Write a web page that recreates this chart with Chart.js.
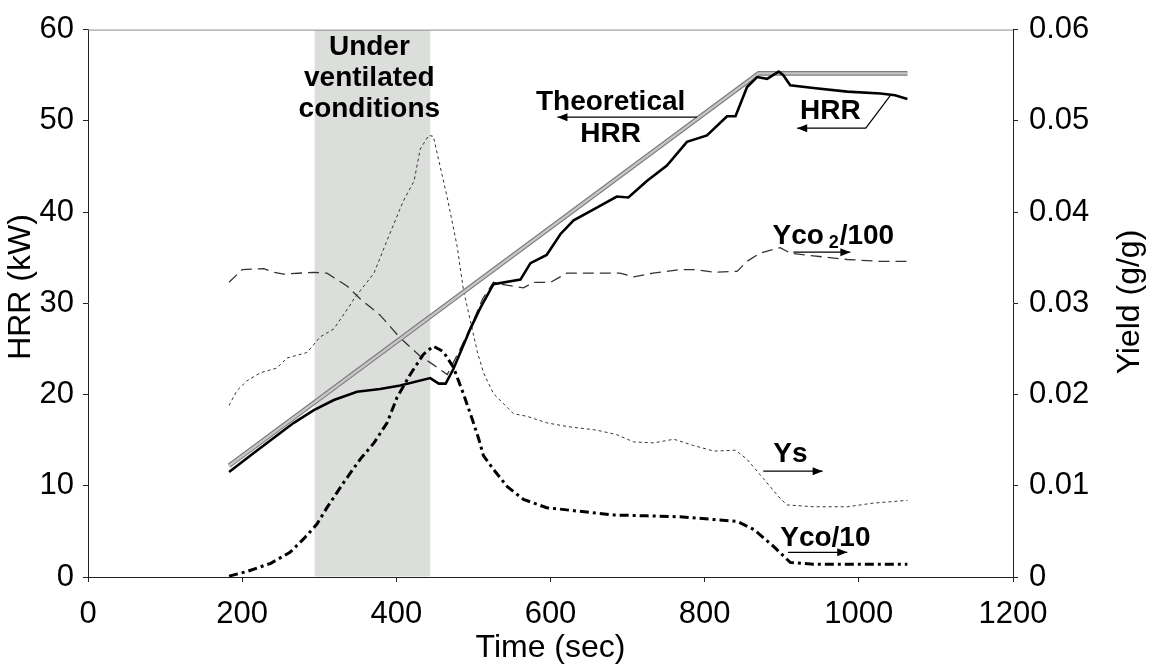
<!DOCTYPE html>
<html>
<head>
<meta charset="utf-8">
<script src="https://cdn.jsdelivr.net/npm/chart.js@4.4.0/dist/chart.umd.min.js"></script>
<style>
  html, body { margin: 0; padding: 0; background: #fff; }
</style>
</head>
<body>
<canvas id="chart" width="1154" height="667"></canvas>
<script>
// --- data ---
const xTicks = [0, 200, 400, 600, 800, 1000, 1200];

const theoTime = [183, 870, 1063];
const theoKW = [12.2, 55.2, 55.2];

const hrrTime = [183, 215, 267, 293, 319, 349, 379, 405, 444, 455,
                 464, 474, 496, 509, 526, 561, 574, 595, 613, 630,
                 656, 686, 701, 725, 751, 777, 803, 829, 840, 855,
                 868, 881, 896, 902, 911, 941, 985, 1028, 1047, 1063];
const hrrKW = [11.5, 13.6, 16.9, 18.3, 19.4, 20.3, 20.6, 21.0, 21.8, 21.2,
               21.2, 22.8, 27.2, 29.5, 32.1, 32.6, 34.4, 35.3, 37.6, 39.1,
               40.3, 41.7, 41.6, 43.4, 45.1, 47.7, 48.4, 50.5, 50.5, 53.7,
               54.8, 54.6, 55.4, 55.0, 53.9, 53.6, 53.2, 53.0, 52.8, 52.4];

const co2Time = [183, 200, 228, 241, 254, 293, 310, 323, 336, 353,
                 379, 405, 431, 444, 466, 480, 497, 512, 526, 535,
                 565, 578, 600, 621, 652, 690, 708, 733, 768, 786,
                 812, 842, 855, 872, 898, 911, 941, 985, 1027, 1063];
const co2Yield = [0.0323, 0.0337, 0.0338, 0.0334, 0.0332, 0.0334, 0.0333, 0.0326, 0.0319, 0.0305,
                  0.0287, 0.0262, 0.0242, 0.0235, 0.0222, 0.0245, 0.0275, 0.0305, 0.0323, 0.0321,
                  0.0317, 0.0323, 0.0323, 0.0333, 0.0333, 0.0333, 0.0329, 0.0333, 0.0337, 0.0337,
                  0.0334, 0.0335, 0.0346, 0.0355, 0.0361, 0.0355, 0.0352, 0.0348, 0.0346, 0.0346];

const ysTime = [183, 193, 206, 224, 245, 258, 284, 301, 319, 340,
                345, 371, 388, 409, 423, 431, 442, 448, 466, 479,
                487, 505, 513, 526, 552, 570, 595, 621, 660, 686,
                708, 734, 760, 786, 812, 840, 855, 876, 898, 907,
                941, 985, 1019, 1063];
const ysYield = [0.0188, 0.0204, 0.0215, 0.0224, 0.0229, 0.0240, 0.0246, 0.0263, 0.0272, 0.0298,
                 0.0305, 0.0333, 0.0369, 0.0412, 0.0434, 0.0469, 0.0484, 0.0483, 0.0416, 0.0362,
                 0.0315, 0.0247, 0.0224, 0.0201, 0.0179, 0.0176, 0.0169, 0.0165, 0.0161, 0.0156,
                 0.0148, 0.0147, 0.0151, 0.0144, 0.0138, 0.0139, 0.0129, 0.0108, 0.0086, 0.0079,
                 0.0077, 0.0077, 0.0081, 0.0084];

const coTime = [183, 206, 237, 262, 280, 297, 310, 332, 353, 371,
                388, 401, 418, 435, 448, 461, 474, 487, 500, 507,
                513, 526, 544, 565, 595, 638, 682, 725, 768, 812,
                842, 864, 890, 911, 941, 1063];
const coYield = [0.0001, 0.0006, 0.0015, 0.0027, 0.0042, 0.0058, 0.0076, 0.0104, 0.0129, 0.0147,
                 0.0169, 0.0197, 0.0222, 0.0244, 0.0253, 0.0247, 0.0230, 0.0201, 0.0169, 0.0151,
                 0.0133, 0.0118, 0.0099, 0.0085, 0.0076, 0.0072, 0.0068, 0.0067, 0.0066, 0.0063,
                 0.0061, 0.0052, 0.0033, 0.0016, 0.0014, 0.0014];

// under-ventilated period (sec)
const shadeStart = 294;
const shadeEnd = 444;

// text notes, placed in data units (time, kW)
const notes = [
    { text: 'Under', t: 365, kW: 57.2, align: 'center' },
    { text: 'ventilated', t: 365, kW: 53.8, align: 'center' },
    { text: 'conditions', t: 365, kW: 50.4, align: 'center' },
    { text: 'Theoretical', t: 678, kW: 51.2, align: 'center' },
    { text: 'HRR', t: 678, kW: 47.7, align: 'center' },
    { text: 'HRR', t: 963, kW: 50.2, align: 'center' },
    { text: 'Ys', t: 889, kW: 12.6, align: 'left' },
    { text: 'Yco/10', t: 898, kW: 3.4, align: 'left' }
];
const co2Note = { t: 888, kW: 36.5 };

// arrows: polyline in (time, kW), head at the last point
const arrows = [
    [[790, 50.4], [609, 50.4]],
    [[1041, 52.8], [1009, 49.2], [920, 49.2]],
    [[915, 35.6], [989, 35.6]],
    [[876, 11.6], [953, 11.6]],
    [[908, 2.7], [985, 2.7]]
];

const FONT = "'Liberation Sans', Arial, sans-serif";

function series(ts, vs) {
    return ts.map((t, i) => ({ x: t, y: vs[i] }));
}

const decor = {
    id: 'decor',
    beforeDatasetsDraw(chart) {
        const { ctx, chartArea: a, scales: { x } } = chart;
        const x0 = x.getPixelForValue(shadeStart);
        const x1 = x.getPixelForValue(shadeEnd);
        ctx.save();
        ctx.fillStyle = '#dcdedc';
        ctx.fillRect(x0, a.top + 0.5, x1 - x0, a.bottom - a.top - 1);
        ctx.restore();
    },
    afterDraw(chart) {
        const { ctx, chartArea: a, scales: { x, y } } = chart;
        ctx.save();

        // top frame line
        ctx.strokeStyle = '#8c8c8c';
        ctx.lineWidth = 1;
        ctx.beginPath();
        ctx.moveTo(a.left, a.top + 0.5);
        ctx.lineTo(a.right, a.top + 0.5);
        ctx.stroke();

        // axis titles for the two y axes (both read bottom to top)
        ctx.fillStyle = '#000';
        ctx.font = '32px ' + FONT;
        ctx.textAlign = 'center';
        ctx.textBaseline = 'middle';
        ctx.save();
        ctx.translate(21, 287);
        ctx.rotate(-Math.PI / 2);
        ctx.fillText('HRR (kW)', 0, 0);
        ctx.restore();
        ctx.save();
        ctx.translate(1130, 302);
        ctx.rotate(-Math.PI / 2);
        ctx.fillText('Yield (g/g)', 0, 0);
        ctx.restore();

        // notes
        ctx.font = 'bold 28px ' + FONT;
        ctx.textBaseline = 'alphabetic';
        notes.forEach(n => {
            ctx.textAlign = n.align;
            ctx.fillText(n.text, x.getPixelForValue(n.t), y.getPixelForValue(n.kW));
        });

        // Yco2/100 with subscript
        let px = x.getPixelForValue(co2Note.t);
        const py = y.getPixelForValue(co2Note.kW);
        ctx.textAlign = 'left';
        ctx.fillText('Yco', px, py);
        px += ctx.measureText('Yco ').width - 3;
        ctx.font = 'bold 18px ' + FONT;
        ctx.fillText('2', px, py + 4);
        px += ctx.measureText('2').width + 1;
        ctx.font = 'bold 28px ' + FONT;
        ctx.fillText('/100', px, py);

        // arrows
        ctx.strokeStyle = '#000';
        ctx.fillStyle = '#000';
        ctx.lineWidth = 1.2;
        arrows.forEach(pts => {
            const p = pts.map(q => [x.getPixelForValue(q[0]), y.getPixelForValue(q[1])]);
            ctx.beginPath();
            ctx.moveTo(p[0][0], p[0][1]);
            for (let i = 1; i < p.length; i++) ctx.lineTo(p[i][0], p[i][1]);
            ctx.stroke();
            const [ex, ey] = p[p.length - 1];
            const [sx, sy] = p[p.length - 2];
            const ang = Math.atan2(ey - sy, ex - sx);
            ctx.beginPath();
            ctx.moveTo(ex, ey);
            ctx.lineTo(ex - 10 * Math.cos(ang) + 4 * Math.sin(ang), ey - 10 * Math.sin(ang) - 4 * Math.cos(ang));
            ctx.lineTo(ex - 10 * Math.cos(ang) - 4 * Math.sin(ang), ey - 10 * Math.sin(ang) + 4 * Math.cos(ang));
            ctx.closePath();
            ctx.fill();
        });

        ctx.restore();
    }
};

const axisGrid = { drawOnChartArea: false, tickLength: 5, tickColor: '#222', color: '#222' };
const axisBorder = { color: '#222', width: 1 };
const tickFont = { family: FONT, size: 31 };

new Chart(document.getElementById('chart'), {
    type: 'line',
    data: {
        datasets: [
            {
                label: 'HRR',
                data: series(hrrTime, hrrKW),
                yAxisID: 'y',
                borderColor: '#000',
                borderWidth: 2.6,
                order: 0
            },
            {
                label: 'Theoretical HRR',
                data: series(theoTime, theoKW),
                yAxisID: 'y',
                borderColor: '#c6c6c6',
                borderWidth: 2.4,
                order: 1
            },
            {
                label: 'Theoretical HRR (edge)',
                data: series(theoTime, theoKW),
                yAxisID: 'y',
                borderColor: '#7c7c7c',
                borderWidth: 4.6,
                order: 2
            },
            {
                label: 'Yco/10',
                data: series(coTime, coYield),
                yAxisID: 'y2',
                borderColor: '#000',
                borderWidth: 3,
                borderDash: [9, 4, 3, 4],
                order: 3
            },
            {
                label: 'Yco2/100',
                data: series(co2Time, co2Yield),
                yAxisID: 'y2',
                borderColor: '#333',
                borderWidth: 1.3,
                borderDash: [11, 6],
                order: 4
            },
            {
                label: 'Ys',
                data: series(ysTime, ysYield),
                yAxisID: 'y2',
                borderColor: '#333',
                borderWidth: 1,
                borderDash: [3, 3],
                order: 5
            }
        ]
    },
    options: {
        responsive: false,
        animation: false,
        layout: { padding: { top: 18, left: 0, right: 0, bottom: 0 } },
        elements: {
            point: { radius: 0 },
            line: { tension: 0, fill: false }
        },
        plugins: {
            legend: { display: false },
            tooltip: { enabled: false }
        },
        scales: {
            x: {
                type: 'linear',
                min: xTicks[0],
                max: xTicks[xTicks.length - 1],
                afterBuildTicks: s => { s.ticks = xTicks.map(v => ({ value: v })); },
                ticks: { font: tickFont, color: '#000', padding: 14, maxRotation: 0, callback: v => String(v) },
                grid: axisGrid,
                border: axisBorder,
                title: {
                    display: true,
                    text: 'Time (sec)',
                    color: '#000',
                    font: { family: FONT, size: 32 },
                    padding: { top: 0, bottom: 0 }
                },
                afterFit: s => { s.height = 90; }
            },
            y: {
                position: 'left',
                min: 0,
                max: 60,
                ticks: { stepSize: 10, font: tickFont, color: '#000', padding: 9 },
                grid: axisGrid,
                border: axisBorder,
                afterFit: s => { s.width = 88; }
            },
            y2: {
                position: 'right',
                min: 0,
                max: 0.06,
                ticks: {
                    stepSize: 0.01,
                    font: tickFont,
                    color: '#000',
                    padding: 11,
                    callback: v => (v === 0 ? '0' : v.toFixed(2))
                },
                grid: axisGrid,
                border: axisBorder,
                afterFit: s => { s.width = 141; }
            }
        }
    },
    plugins: [decor]
});
</script>
</body>
</html>
